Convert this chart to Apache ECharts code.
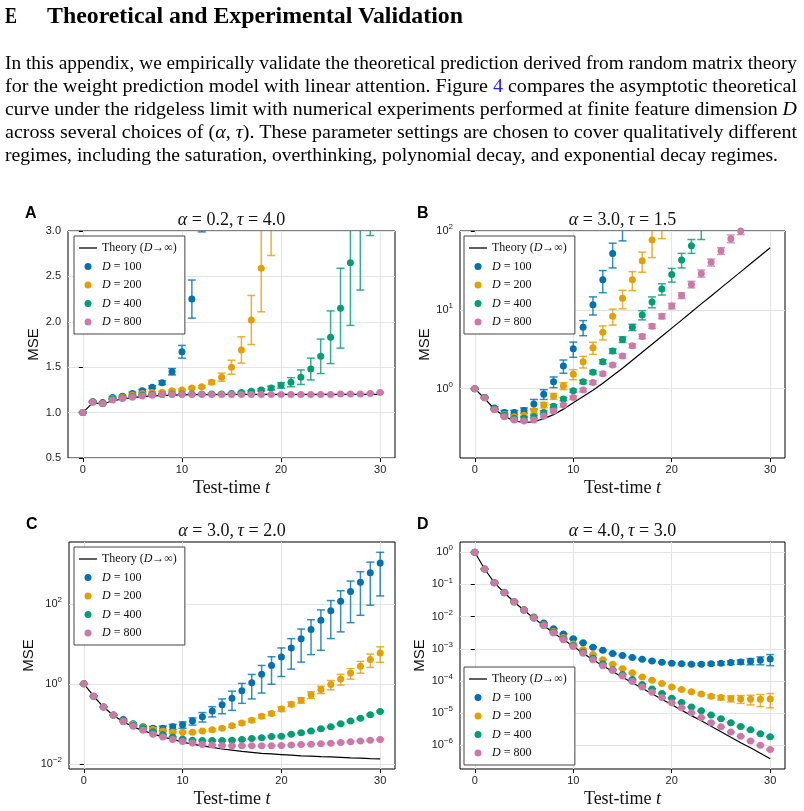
<!DOCTYPE html>
<html lang="en">
<head>
<meta charset="UTF-8">
<title>Theoretical and Experimental Validation</title>
<style>
  body { margin: 0; background: #fff; }
  #page { position: relative; width: 804px; height: 811px; overflow: hidden; }
  #main { position: absolute; left: 0; top: 0; width: 804px; height: 811px; }
  #text { position: absolute; left: 0; top: 0; width: 804px; font-family: "Liberation Serif", "Times New Roman", serif; color: #000; }
  .fit { position: absolute; white-space: nowrap; transform-origin: 0 50%; }
  .hd { top: 3px; font-size: 23px; font-weight: bold; line-height: 26px; }
  .ln { left: 5px; font-size: 19px; line-height: 23px; }
  .ref { color: #2222ee; }
</style>
</head>
<body>
<div id="page">
  <div id="main"></div>
  <div id="text">
    <div class="fit hd" style="left:5px" data-w="12">E</div>
    <div class="fit hd" style="left:47px" data-w="416">Theoretical and Experimental Validation</div>
    <div class="fit ln" style="top:51px" data-w="792">In this appendix, we empirically validate the theoretical prediction derived from random matrix theory</div>
    <div class="fit ln" style="top:74px" data-w="792">for the weight prediction model with linear attention. Figure <span class="ref">4</span> compares the asymptotic theoretical</div>
    <div class="fit ln" style="top:97px" data-w="792">curve under the ridgeless limit with numerical experiments performed at finite feature dimension <i>D</i></div>
    <div class="fit ln" style="top:120px" data-w="792">across several choices of (<i>α</i>, <i>τ</i>). These parameter settings are chosen to cover qualitatively different</div>
    <div class="fit ln" style="top:143px" data-w="773">regimes, including the saturation, overthinking, polynomial decay, and exponential decay regimes.</div>
  </div>
</div>
<script src="https://cdn.jsdelivr.net/npm/echarts@6/dist/echarts.min.js"></script>
<script>
    // test-time steps
    var T = [0,1,2,3,4,5,6,7,8,9,10,11,12,13,14,15,16,17,18,19,20,21,22,23,24,25,26,27,28,29,30];

    // panel A: alpha=0.2, tau=4.0 (linear y)
    var thA = [1.0,1.11,1.095,1.13,1.15,1.165,1.176,1.184,1.188,1.192,1.195,1.197,1.198,1.199,1.2,1.2,1.2,1.2,1.2,1.2,1.2,1.2,1.2,1.2,1.2,1.2,1.2,1.2,1.2,1.2,1.2];
    var a100 = [1.0,1.12,1.11,1.165,1.18,1.21,1.24,1.28,1.33,1.45,1.67,2.25,3.4,null,null,null,null,null,null,null,null,null,null,null,null,null,null,null,null,null,null];
    var a100e = [0.004,0.006,0.006,0.01,0.01,0.015,0.015,0.015,0.02,0.035,0.07,0.21,0.41,null,null,null,null,null,null,null,null,null,null,null,null,null,null,null,null,null,null];
    var a200 = [1.0,1.12,1.1,1.155,1.17,1.195,1.21,1.22,1.225,1.24,1.25,1.27,1.285,1.335,1.39,1.5,1.69,2.02,2.59,3.5,null,null,null,null,null,null,null,null,null,null,null];
    var a200e = [0.004,0.006,0.006,0.008,0.008,0.008,0.01,0.01,0.01,0.01,0.01,0.01,0.012,0.02,0.045,0.077,0.145,0.27,0.48,0.77,null,null,null,null,null,null,null,null,null,null,null];
    var a400 = [1.0,1.12,1.1,1.15,1.16,1.176,1.195,1.2,1.2,1.205,1.205,1.205,1.205,1.205,1.205,1.21,1.22,1.235,1.25,1.27,1.3,1.335,1.39,1.48,1.62,1.83,2.15,2.65,3.4,4.1,5.5];
    var a400e = [0.004,0.005,0.005,0.005,0.005,0.005,0.005,0.005,0.005,0.005,0.005,0.005,0.005,0.006,0.006,0.007,0.008,0.01,0.012,0.02,0.03,0.05,0.08,0.12,0.19,0.29,0.44,0.69,1.05,1.15,1.6];
    var a800 = [1.0,1.114,1.1,1.14,1.155,1.17,1.184,1.19,1.199,1.2,1.2,1.2,1.2,1.2,1.2,1.2,1.2,1.2,1.2,1.2,1.2,1.2,1.2,1.2,1.2,1.2,1.205,1.205,1.205,1.21,1.22];
    var a800e = [0.006,0.006,0.006,0.006,0.006,0.006,0.006,0.006,0.006,0.006,0.006,0.006,0.006,0.006,0.006,0.006,0.006,0.006,0.006,0.006,0.006,0.006,0.006,0.006,0.006,0.006,0.006,0.006,0.006,0.006,0.006];

    // panel B: alpha=3.0, tau=1.5 (log y)
    var thB = [1,0.75,0.55,0.447,0.389,0.372,0.38,0.417,0.468,0.55,0.661,0.794,0.955,1.175,1.462,1.82,2.29,2.9,3.66,4.63,5.86,7.41,9.38,11.9,15.0,19.0,24.0,30.3,38.4,48.5,61.4];
    var b100 = [1,0.77,0.57,0.5,0.5,0.53,0.64,0.85,1.22,1.94,3.2,6.0,11.6,24,52,112,null,null,null,null,null,null,null,null,null,null,null,null,null,null,null];
    var b100e = [0.005,0.01,0.02,0.03,0.03,0.04,0.09,0.12,0.19,0.37,0.7,1.3,3,7.5,18,37,null,null,null,null,null,null,null,null,null,null,null,null,null,null,null];
    var b200 = [1,0.77,0.55,0.47,0.44,0.46,0.52,0.62,0.8,1.08,1.52,2.2,3.3,5.2,8.3,14,24,42,77,125,null,null,null,null,null,null,null,null,null,null,null];
    var b200e = [0.005,0.01,0.015,0.02,0.02,0.025,0.04,0.05,0.07,0.11,0.22,0.37,0.58,1.05,1.9,3.7,6.5,12,31,45,null,null,null,null,null,null,null,null,null,null,null];
    var b400 = [1,0.77,0.55,0.46,0.42,0.42,0.44,0.5,0.6,0.74,0.94,1.22,1.62,2.2,3.0,4.2,6.0,8.6,12.6,18.4,28,43,65,102,null,null,null,null,null,null,null];
    var b400e = [0.005,0.01,0.01,0.015,0.015,0.02,0.02,0.025,0.03,0.035,0.04,0.06,0.08,0.13,0.2,0.35,0.55,1.15,2,3,5.5,9,13,24,null,null,null,null,null,null,null];
    var b800 = [1,0.76,0.54,0.44,0.4,0.39,0.4,0.45,0.52,0.62,0.77,0.96,1.2,1.55,2.0,2.6,3.5,4.6,6.2,8.3,11.2,15.2,21,29,40,56,80,100,null,null,null];
    var b800e = [0.005,0.01,0.01,0.01,0.01,0.01,0.015,0.02,0.025,0.03,0.035,0.045,0.06,0.08,0.1,0.15,0.2,0.3,0.4,0.6,0.9,1.3,2,3,4,5.5,9,10,null,null,null];

    // panel C: alpha=3.0, tau=2.0 (log y)
    var thC = [1,0.49,0.263,0.162,0.112,0.0841,0.0676,0.0562,0.0473,0.0407,0.0347,0.0309,0.0282,0.0257,0.0234,0.0219,0.0204,0.0193,0.0182,0.0176,0.017,0.0164,0.0158,0.0155,0.0151,0.0148,0.0145,0.0141,0.0138,0.0135,0.0133];
    var c100 = [1,0.49,0.263,0.166,0.129,0.1,0.0841,0.0776,0.0776,0.0841,0.0944,0.117,0.151,0.209,0.299,0.437,0.676,1.07,1.74,2.88,4.73,7.94,13.5,22.9,38.9,67.6,117,204,347,603,1059];
    var c100e = [0.005,0.008,0.005,0.004,0.004,0.005,0.006,0.008,0.01,0.013,0.017,0.024,0.04,0.06,0.12,0.22,0.35,0.65,1.15,1.9,3.2,5.6,10,17.5,32,54,97,170,295,510,900];
    var c200 = [1,0.49,0.263,0.166,0.1175,0.0955,0.0794,0.0724,0.0661,0.0617,0.0617,0.0617,0.0661,0.0708,0.0776,0.0891,0.105,0.123,0.155,0.182,0.234,0.309,0.389,0.531,0.724,0.962,1.33,1.86,2.75,4.07,5.96];
    var c200e = [0.005,0.005,0.005,0.004,0.003,0.003,0.003,0.003,0.003,0.003,0.003,0.003,0.003,0.004,0.005,0.007,0.009,0.012,0.016,0.02,0.03,0.04,0.06,0.1,0.15,0.25,0.4,0.55,0.9,1.5,2.5];
    var c400 = [1,0.49,0.263,0.166,0.115,0.0912,0.0759,0.0631,0.0537,0.0468,0.0417,0.0389,0.038,0.038,0.038,0.0389,0.0407,0.0427,0.0447,0.0479,0.049,0.055,0.0596,0.0661,0.075,0.0841,0.1,0.117,0.138,0.168,0.204];
    var c400e = [0.01,0.005,0.004,0.003,0.002,0.002,0.002,0.0015,0.0015,0.0015,0.0015,0.0015,0.0015,0.0015,0.0015,0.0015,0.0015,0.0015,0.0015,0.002,0.002,0.002,0.002,0.0025,0.003,0.003,0.004,0.005,0.006,0.007,0.009];
    var c800 = [1,0.49,0.263,0.166,0.115,0.0871,0.0692,0.055,0.0468,0.0407,0.0363,0.0331,0.0302,0.0295,0.0288,0.0282,0.0282,0.0282,0.0282,0.0282,0.0288,0.0295,0.0302,0.0309,0.0316,0.0324,0.0339,0.0355,0.0372,0.0389,0.0407];
    var c800e = [0.01,0.005,0.004,0.003,0.002,0.002,0.0015,0.0012,0.001,0.001,0.001,0.001,0.001,0.001,0.001,0.001,0.001,0.001,0.001,0.001,0.001,0.001,0.001,0.001,0.001,0.001,0.0012,0.0012,0.0013,0.0014,0.0015];

    // panel D: alpha=4.0, tau=3.0 (log y)
    var thD = [1,0.302,0.112,0.055,0.0285,0.0158,0.00891,0.00525,0.00309,0.00193,0.0012,7.24e-4,4.57e-4,2.95e-4,1.95e-4,1.29e-4,8.71e-5,5.89e-5,3.98e-5,2.69e-5,1.82e-5,1.23e-5,8.32e-6,5.75e-6,3.89e-6,2.63e-6,1.78e-6,1.2e-6,8.32e-7,5.62e-7,3.8e-7];
    var d100 = [1,0.302,0.112,0.0575,0.0295,0.0166,0.00977,0.00631,0.00417,0.00288,0.00204,0.00155,0.00112,8.91e-4,7.08e-4,6.17e-4,5.37e-4,4.68e-4,4.17e-4,3.8e-4,3.55e-4,3.39e-4,3.31e-4,3.31e-4,3.39e-4,3.55e-4,3.72e-4,3.89e-4,4.07e-4,4.37e-4,4.79e-4];
    var d100e = [0.01,0.005,0.003,0.002,0.001,5e-4,3e-4,2e-4,1.5e-4,1e-4,8e-5,6e-5,4e-5,3e-5,2.5e-5,2e-5,1.8e-5,1.8e-5,1.8e-5,1.8e-5,1.8e-5,2e-5,2.2e-5,2.5e-5,3e-5,4e-5,5e-5,6e-5,9e-5,1.2e-4,1.8e-4];
    var d200 = [1,0.302,0.112,0.055,0.0288,0.0162,0.00933,0.00562,0.00347,0.00224,0.00141,9.55e-4,6.61e-4,4.57e-4,3.31e-4,2.4e-4,1.78e-4,1.32e-4,1.05e-4,8.32e-5,6.46e-5,5.37e-5,4.57e-5,3.89e-5,3.31e-5,3.02e-5,2.82e-5,2.75e-5,2.69e-5,2.69e-5,2.75e-5];
    var d200e = [0.01,0.005,0.003,0.002,0.001,5e-4,3e-4,2e-4,1.2e-4,8e-5,5e-5,3.5e-5,2.5e-5,1.8e-5,1.3e-5,1e-5,7e-6,5e-6,4e-6,3.5e-6,3e-6,2.8e-6,2.8e-6,3e-6,3.5e-6,4.5e-6,6e-6,7.5e-6,9e-6,1.1e-5,1.3e-5];
    var d400 = [1,0.302,0.112,0.055,0.0285,0.0158,0.00912,0.00537,0.00324,0.00204,0.00126,7.94e-4,5.13e-4,3.39e-4,2.24e-4,1.58e-4,1.1e-4,7.76e-5,5.62e-5,4.07e-5,2.88e-5,2.14e-5,1.55e-5,1.17e-5,8.71e-6,6.61e-6,5.01e-6,3.8e-6,3.02e-6,2.29e-6,1.82e-6];
    var d400e = [0.01,0.005,0.003,0.0015,8e-4,5e-4,3e-4,1.6e-4,1e-4,6e-5,4e-5,2.5e-5,1.6e-5,1e-5,7e-6,5e-6,3.5e-6,2.5e-6,1.8e-6,1.3e-6,9e-7,7e-7,5e-7,4e-7,3e-7,2.3e-7,1.8e-7,1.4e-7,1.1e-7,9e-8,8e-8];
    var d800 = [1,0.302,0.112,0.055,0.0285,0.0158,0.00891,0.00525,0.00309,0.00191,0.00117,7.24e-4,4.57e-4,2.95e-4,2.09e-4,1.41e-4,9.55e-5,6.46e-5,4.47e-5,3.02e-5,2.09e-5,1.45e-5,1.02e-5,7.24e-6,5.01e-6,3.72e-6,2.57e-6,1.91e-6,1.35e-6,1e-6,7.41e-7];
    var d800e = [0.01,0.005,0.003,0.0015,8e-4,5e-4,3e-4,1.6e-4,1e-4,6e-5,4e-5,2.5e-5,1.6e-5,1e-5,7e-6,5e-6,3.3e-6,2.2e-6,1.5e-6,1e-6,7e-7,5e-7,3.5e-7,2.5e-7,1.7e-7,1.3e-7,9e-8,7e-8,5e-8,4e-8,3e-8];

    // tick values
    var xTicks = [0, 10, 20, 30];
    var yTicksA = [0.5, 1.0, 1.5, 2.0, 2.5, 3.0];
    var yTicksB = [1, 10, 100];
    var yTicksC = [0.01, 1, 100];
    var yTicksD = [1e-6, 1e-5, 1e-4, 1e-3, 1e-2, 1e-1, 1];

    // squeeze each text line to the width it has in the page
    document.querySelectorAll('.fit').forEach(function (el) {
        var w = el.getBoundingClientRect().width;
        el.style.transform = 'scaleX(' + (+el.getAttribute('data-w') / w) + ')';
    });

    var SERIF = '"Liberation Serif", "DejaVu Serif", serif';
    var SANS = '"Liberation Sans", "DejaVu Sans", sans-serif';
    var COLORS = ['#0072B2', '#E69F00', '#009E73', '#CC79A7'];
    var NAMES = ['D100', 'D200', 'D400', 'D800'];
    var LABELS = {
        'Theory': 'Theory ({i|D}\u2192\u221e)',
        'D100': '{i|D} = 100',
        'D200': '{i|D} = 200',
        'D400': '{i|D} = 400',
        'D800': '{i|D} = 800'
    };

    var panels = [
        {letter: 'A', title: '{i|α} = 0.2,\u2009{i|τ} = 4.0', log: false, ymin: 0.5, ymax: 3.0, yticks: yTicksA,
         theory: thA, vals: [a100, a200, a400, a800], errs: [a100e, a200e, a400e, a800e],
         grid: {left: 68, top: 231, width: 327, height: 227}, legend: {left: 74, top: 236}, nameGap: 26},
        {letter: 'B', title: '{i|α} = 3.0,\u2009{i|τ} = 1.5', log: true, ymin: 0.132, ymax: 100, yticks: yTicksB,
         theory: thB, vals: [b100, b200, b400, b800], errs: [b100e, b200e, b400e, b800e],
         grid: {left: 460, top: 231, width: 325, height: 227}, legend: {left: 464, top: 236}, nameGap: 28},
        {letter: 'C', title: '{i|α} = 3.0,\u2009{i|τ} = 2.0', log: true, ymin: 0.0074, ymax: 3550, yticks: yTicksC,
         theory: thC, vals: [c100, c200, c400, c800], errs: [c100e, c200e, c400e, c800e],
         grid: {left: 69, top: 542, width: 326, height: 227}, legend: {left: 74, top: 547}, nameGap: 33},
        {letter: 'D', title: '{i|α} = 4.0,\u2009{i|τ} = 3.0', log: true, ymin: 1.82e-7, ymax: 2.09, yticks: yTicksD,
         theory: thD, vals: [d100, d200, d400, d800], errs: [d100e, d200e, d400e, d800e],
         grid: {left: 460, top: 542, width: 325, height: 227}, legend: {left: 464, top: 667}, nameGap: 33}
    ];

    function logLabel(v) {
        var e = Math.round(Math.log10(v));
        return '10{sup|' + (e < 0 ? '\u2212' + (-e) : e) + '}';
    }

    function errItem(params, api) {
        var lo = api.coord([api.value(0), api.value(1)]);
        var hi = api.coord([api.value(0), api.value(2)]);
        var w = 4;
        var st = {stroke: api.visual('color'), lineWidth: 1.5, opacity: 0.8};
        return {
            type: 'group',
            children: [
                {type: 'line', shape: {x1: lo[0], y1: lo[1], x2: hi[0], y2: hi[1]}, style: st},
                {type: 'line', shape: {x1: lo[0] - w, y1: lo[1], x2: lo[0] + w, y2: lo[1]}, style: st},
                {type: 'line', shape: {x1: hi[0] - w, y1: hi[1], x2: hi[0] + w, y2: hi[1]}, style: st}
            ]
        };
    }

    var grids = [], xAxes = [], yAxes = [], series = [], legends = [], graphics = [];

    panels.forEach(function (p, i) {
        grids.push({left: p.grid.left, top: p.grid.top, width: p.grid.width, height: p.grid.height,
            show: true, borderColor: '#000', borderWidth: 1, backgroundColor: 'transparent'});

        xAxes.push({
            gridIndex: i, type: 'value', min: -1.5, max: 31.5,
            name: 'Test-time {i|t}', nameLocation: 'middle', nameGap: 21,
            nameTextStyle: {fontFamily: SERIF, fontSize: 18, color: '#111',
                rich: {i: {fontFamily: SERIF, fontSize: 18, fontStyle: 'italic', color: '#111'}}},
            axisLine: {show: false, onZero: false},
            axisTick: {show: true, length: 4, customValues: xTicks, lineStyle: {color: '#000'}},
            axisLabel: {customValues: xTicks, fontFamily: SANS, fontSize: 11, color: '#222', margin: 6},
            splitLine: {show: true, lineStyle: {color: '#e4e4e4', width: 1}}
        });

        var yAxis = {
            gridIndex: i, type: p.log ? 'log' : 'value', min: p.ymin, max: p.ymax,
            name: 'MSE', nameLocation: 'middle', nameGap: p.nameGap, nameRotate: 90,
            nameTextStyle: {fontFamily: SANS, fontSize: 15, color: '#111'},
            axisLine: {show: false},
            axisTick: {show: true, length: 4, customValues: p.yticks, lineStyle: {color: '#000'}},
            axisLabel: {customValues: p.yticks, fontFamily: SANS, fontSize: 11, color: '#222', margin: 7},
            splitLine: {show: true, lineStyle: {color: '#e4e4e4', width: 1}}
        };
        if (p.log) {
            yAxis.logBase = 10;
            yAxis.axisLabel.formatter = logLabel;
            yAxis.axisLabel.lineHeight = 16;
            yAxis.axisLabel.rich = {sup: {fontFamily: SANS, fontSize: 8, color: '#222', verticalAlign: 'top', lineHeight: 10}};
        } else {
            yAxis.axisLabel.formatter = function (v) { return v.toFixed(1); };
        }
        yAxes.push(yAxis);

        series.push({
            type: 'line', name: 'Theory', xAxisIndex: i, yAxisIndex: i,
            data: T.map(function (t, k) { return [t, p.theory[k]]; }),
            symbol: 'none', lineStyle: {color: '#000', width: 1.2}, itemStyle: {color: '#000'},
            silent: true, z: 2
        });

        p.vals.forEach(function (vals, j) {
            var pts = [], bars = [];
            T.forEach(function (t, k) {
                if (vals[k] == null) return;
                pts.push([t, vals[k]]);
                bars.push([t, vals[k] - p.errs[j][k], vals[k] + p.errs[j][k]]);
            });
            series.push({
                type: 'custom', name: 'err' + i + j, xAxisIndex: i, yAxisIndex: i,
                data: bars, renderItem: errItem, clip: true, silent: true,
                encode: {x: 0, y: [1, 2]}, itemStyle: {color: COLORS[j]}, z: 3
            });
            series.push({
                type: 'scatter', name: NAMES[j], xAxisIndex: i, yAxisIndex: i,
                data: pts, symbolSize: 7, itemStyle: {color: COLORS[j], opacity: 1}, clip: true, silent: true, z: 3
            });
        });

        legends.push({
            left: p.legend.left, top: p.legend.top, orient: 'vertical',
            itemWidth: 18, itemHeight: 7, itemGap: 6.5, padding: [6, 8, 6, 5],
            backgroundColor: '#fff', borderColor: '#444', borderWidth: 1, borderRadius: 0,
            selectedMode: false,
            data: [
                {name: 'Theory', icon: 'path://M0,0H20V1.4H0Z'},
                {name: 'D100', icon: 'circle'},
                {name: 'D200', icon: 'circle'},
                {name: 'D400', icon: 'circle'},
                {name: 'D800', icon: 'circle'}
            ],
            formatter: function (name) { return LABELS[name]; },
            textStyle: {fontFamily: SERIF, fontSize: 12, color: '#111',
                rich: {i: {fontFamily: SERIF, fontSize: 12, fontStyle: 'italic', color: '#111'}}}
        });

        graphics.push({
            type: 'text', left: p.grid.left - 43, top: p.grid.top - 25,
            style: {text: p.letter, fontFamily: SANS, fontSize: 16, fontWeight: 'bold', fill: '#000'}
        });
        graphics.push({
            type: 'text', x: p.grid.left + p.grid.width / 2, y: p.grid.top - 11,
            style: {text: p.title, align: 'center', verticalAlign: 'middle', fontFamily: SERIF, fontSize: 18, fill: '#111',
                rich: {i: {fontFamily: SERIF, fontSize: 18, fontStyle: 'italic', fill: '#111'}}}
        });
    });

    var myChart = echarts.init(document.getElementById('main'));
    myChart.setOption({
        animation: false,
        grid: grids,
        xAxis: xAxes,
        yAxis: yAxes,
        legend: legends,
        graphic: graphics,
        series: series
    });
</script>
</body>
</html>
